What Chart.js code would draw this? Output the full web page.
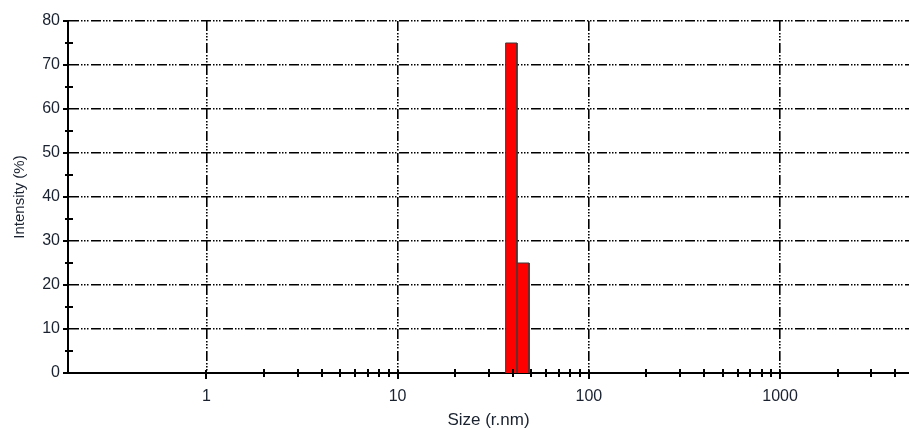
<!DOCTYPE html>
<html>
<head>
<meta charset="utf-8">
<script src="https://cdn.jsdelivr.net/npm/chart.js@4"></script>
<style>
  html, body { margin: 0; padding: 0; background: #fff; }
  #wrap { width: 909px; height: 428px; }
</style>
</head>
<body>
<div id="wrap"><canvas id="chart" width="909" height="428"></canvas></div>
<script>
// size distribution by intensity
const binStart = [36.7, 42.1];
const binEnd = [42.1, 48.7];
const intensity = [75, 25];

const xTicks = [1, 10, 100, 1000];
const xMinor = [2, 3, 4, 5, 6, 7, 8, 9, 20, 30, 40, 50, 60, 70, 80, 90,
  200, 300, 400, 500, 600, 700, 800, 900, 2000, 3000, 4000];
const yTicks = [0, 10, 20, 30, 40, 50, 60, 70, 80];
const yMinor = [5, 15, 25, 35, 45, 55, 65, 75];

// outline of the histogram, one step per bin
const outline = [];
for (let i = 0; i < intensity.length; i++) {
  outline.push({ x: binStart[i], y: 0 });
  outline.push({ x: binStart[i], y: intensity[i] });
  outline.push({ x: binEnd[i], y: intensity[i] });
  outline.push({ x: binEnd[i], y: 0 });
}

const gridDash = [10, 2, 1.5, 1.5, 1.5, 1.5, 1.5, 2.5];
const textColor = '#1a2230';

// small tick marks across the axes
const tickMarks = {
  id: 'tickMarks',
  afterDraw(chart) {
    const { ctx, chartArea, scales } = chart;
    const x = scales.x, y = scales.y;
    ctx.save();
    ctx.strokeStyle = '#000';
    ctx.lineWidth = 2;
    ctx.beginPath();
    xMinor.forEach(v => {
      const px = Math.round(x.getPixelForValue(v));
      ctx.moveTo(px, chartArea.bottom - 4);
      ctx.lineTo(px, chartArea.bottom + 4);
    });
    xTicks.forEach(v => {
      const px = Math.round(x.getPixelForValue(v));
      ctx.moveTo(px, chartArea.bottom - 3);
      ctx.lineTo(px, chartArea.bottom + 6);
    });
    yMinor.forEach(v => {
      const py = Math.round(y.getPixelForValue(v));
      ctx.moveTo(chartArea.left - 3, py);
      ctx.lineTo(chartArea.left + 5, py);
    });
    yTicks.forEach(v => {
      const py = Math.round(y.getPixelForValue(v));
      ctx.moveTo(chartArea.left - 5, py);
      ctx.lineTo(chartArea.left, py);
    });
    ctx.stroke();
    ctx.restore();
  }
};

new Chart(document.getElementById('chart'), {
  type: 'scatter',
  data: {
    datasets: [{
      data: outline,
      showLine: true,
      fill: 'origin',
      backgroundColor: '#ff0000',
      borderColor: '#3a3a3a',
      borderWidth: 1,
      pointRadius: 0,
      tension: 0
    }]
  },
  options: {
    responsive: false,
    animation: false,
    layout: { padding: { top: 21, right: 0, left: 0, bottom: 0 } },
    plugins: { legend: { display: false }, tooltip: { enabled: false } },
    scales: {
      x: {
        type: 'logarithmic',
        min: 0.189,
        max: 4720,
        afterBuildTicks: s => { s.ticks = xTicks.map(v => ({ value: v })); },
        afterFit: s => { s.height = 55; },
        ticks: {
          color: textColor,
          font: { family: 'Liberation Sans', size: 16 },
          padding: 14,
          maxRotation: 0,
          autoSkip: false,
          callback: v => String(v)
        },
        grid: { color: '#000', lineWidth: 1.6, drawTicks: false },
        border: { color: '#000', width: 2, dash: gridDash },
        title: {
          display: true,
          text: 'Size (r.nm)',
          color: textColor,
          font: { family: 'Liberation Sans', size: 17 },
          padding: { top: 9, bottom: -3 }
        }
      },
      y: {
        min: 0,
        max: 80,
        afterBuildTicks: s => { s.ticks = yTicks.map(v => ({ value: v })); },
        afterFit: s => { s.width = 68; },
        ticks: {
          color: textColor,
          font: { family: 'Liberation Sans', size: 16 },
          padding: 8
        },
        grid: { color: '#000', lineWidth: 1.6, drawTicks: false },
        border: { color: '#000', width: 2, dash: gridDash },
        title: {
          display: true,
          text: 'Intensity (%)',
          color: textColor,
          font: { family: 'Liberation Sans', size: 15 },
          padding: { top: 11, bottom: 0 }
        }
      }
    }
  },
  plugins: [tickMarks]
});
</script>
</body>
</html>
